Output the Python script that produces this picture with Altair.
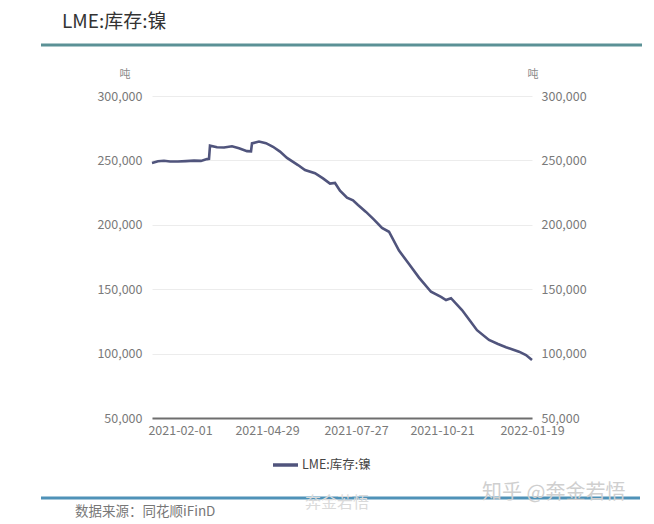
import altair as alt
import pandas as pd

dates = [
    "2021-01-04", "2021-01-10", "2021-01-16", "2021-01-22", "2021-01-30", "2021-02-07",
    "2021-02-15", "2021-02-22", "2021-02-28", "2021-03-02", "2021-03-03", "2021-03-10",
    "2021-03-17", "2021-03-25", "2021-04-01", "2021-04-09", "2021-04-13", "2021-04-14",
    "2021-04-21", "2021-04-28", "2021-05-05", "2021-05-12", "2021-05-19", "2021-05-30",
    "2021-06-06", "2021-06-16", "2021-06-24", "2021-07-01", "2021-07-06", "2021-07-11",
    "2021-07-18", "2021-07-24", "2021-07-29", "2021-08-06", "2021-08-14", "2021-08-22",
    "2021-08-29", "2021-09-08", "2021-09-18", "2021-09-28", "2021-10-10", "2021-10-20",
    "2021-10-25", "2021-10-30", "2021-11-10", "2021-11-18", "2021-11-25", "2021-12-07",
    "2021-12-16", "2021-12-24", "2022-01-06", "2022-01-13", "2022-01-19",
]
values = [
    248000, 249300, 249700, 249200, 249100, 249400,
    249800, 249600, 251000, 251200, 261400, 260200,
    260000, 261000, 259500, 257200, 257000, 263200,
    264600, 263400, 260600, 256800, 251900, 246400,
    242500, 240000, 236000, 232000, 232500, 226500,
    221000, 219000, 215400, 210000, 204000, 197500,
    194600, 180000, 169500, 159000, 148000, 144000,
    141600, 143000, 133800, 125500, 118200, 110600,
    107500, 105000, 101500, 98900, 95000,
]
x_ticks = ["2021-02-01", "2021-04-29", "2021-07-27", "2021-10-21", "2022-01-19"]
y_ticks = [50000, 100000, 150000, 200000, 250000, 300000]
series_name = "LME:库存:镍"

FONT = "Noto Sans CJK SC"
LINE_COLOR = "#50547c"
NOVIEW = alt.ViewBackground(stroke="transparent", strokeWidth=0)

df = pd.DataFrame({"date": pd.to_datetime(dates), "value": values})

x_enc = alt.X(
    "date:T",
    scale=alt.Scale(domain=["2021-01-04", "2022-01-19"]),
    axis=alt.Axis(
        values=[pd.Timestamp(d).isoformat() for d in x_ticks],
        format="%Y-%m-%d", title=None, grid=False, ticks=False,
        domainColor="#6e6e6e", domainWidth=2,
        labelColor="#7a7a7a", labelFontSize=12.5, labelFont=FONT,
        labelPadding=6, labelOverlap=False, labelFlush=False,
    ),
)
y_scale = alt.Scale(domain=[50000, 300000])

left = alt.Chart(df).mark_line(color=LINE_COLOR, strokeWidth=2.6, interpolate="linear").encode(
    x=x_enc,
    y=alt.Y("value:Q", scale=y_scale, axis=alt.Axis(
        values=y_ticks, format=",.0f", title=None, orient="left", ticks=False, domain=False,
        grid=True, gridColor="#ececec", gridWidth=1,
        labelColor="#7a7a7a", labelFontSize=12.5, labelFont=FONT, labelPadding=10)),
)
right = alt.Chart(df).mark_line(color=LINE_COLOR, strokeWidth=2.6, opacity=0).encode(
    x=x_enc,
    y=alt.Y("value:Q", scale=y_scale, axis=alt.Axis(
        values=y_ticks, format=",.0f", title=None, orient="right", ticks=False, domain=False,
        grid=False, labelColor="#7a7a7a", labelFontSize=12.5, labelFont=FONT, labelPadding=9)),
)

def txt(s, x, y, size=12, color="#333", align="left", font=FONT, weight="normal"):
    return alt.Chart(pd.DataFrame({"t": [s]})).mark_text(
        align=align, baseline="middle", fontSize=size, color=color, font=font, fontWeight=weight
    ).encode(text="t:N", x=alt.value(x), y=alt.value(y))

def hline(x1, x2, y, color, width):
    return alt.Chart(pd.DataFrame({"a": [0]})).mark_rule(color=color, strokeWidth=width).encode(
        x=alt.value(x1), x2=alt.value(x2), y=alt.value(y))

OX, OY = 152, 96  # plot-area origin in page coords

annots = [
    txt("LME:库存:镍", 62 - OX, 22 - OY, size=19, color="#333333"),
    hline(41 - OX, 642 - OX, 45 - OY, "#5b9196", 3),
    txt("吨", 125 - OX, 75 - OY, size=11, color="#8a8a8a", align="center"),
    txt("吨", 533 - OX, 75 - OY, size=11, color="#8a8a8a", align="center"),
    hline(273 - OX, 298 - OX, 465 - OY, LINE_COLOR, 3.5),
    txt(series_name, 302 - OX, 465 - OY, size=12.5, color="#444444"),
    hline(41 - OX, 640 - OX, 498 - OY, "#4f92b8", 3),
    txt("数据来源：同花顺iFinD", 75 - OX, 512 - OY, size=13.5, color="#777777"),
    txt("知乎 @奔金若悟", 482 - OX, 493 - OY, size=20, color="#cfcfcf"),
    txt("奔金若悟", 305 - OX, 503 - OY, size=16, color="#dadada"),
]

base = alt.layer(left, right).resolve_scale(y="independent").properties(view=NOVIEW)
chart = (
    alt.layer(base, *annots)
    .properties(
        width=380, height=322,
        view=NOVIEW,
        autosize=alt.AutoSizeParams(type="none"),
        padding={"left": OX, "top": OY, "right": 654 - OX - 380, "bottom": 524 - OY - 322},
    )
    .configure_view(stroke="transparent", strokeWidth=0)
    .configure(background="white")
)

chart.save("out.html", embed_options={"renderer": "svg", "actions": False})
